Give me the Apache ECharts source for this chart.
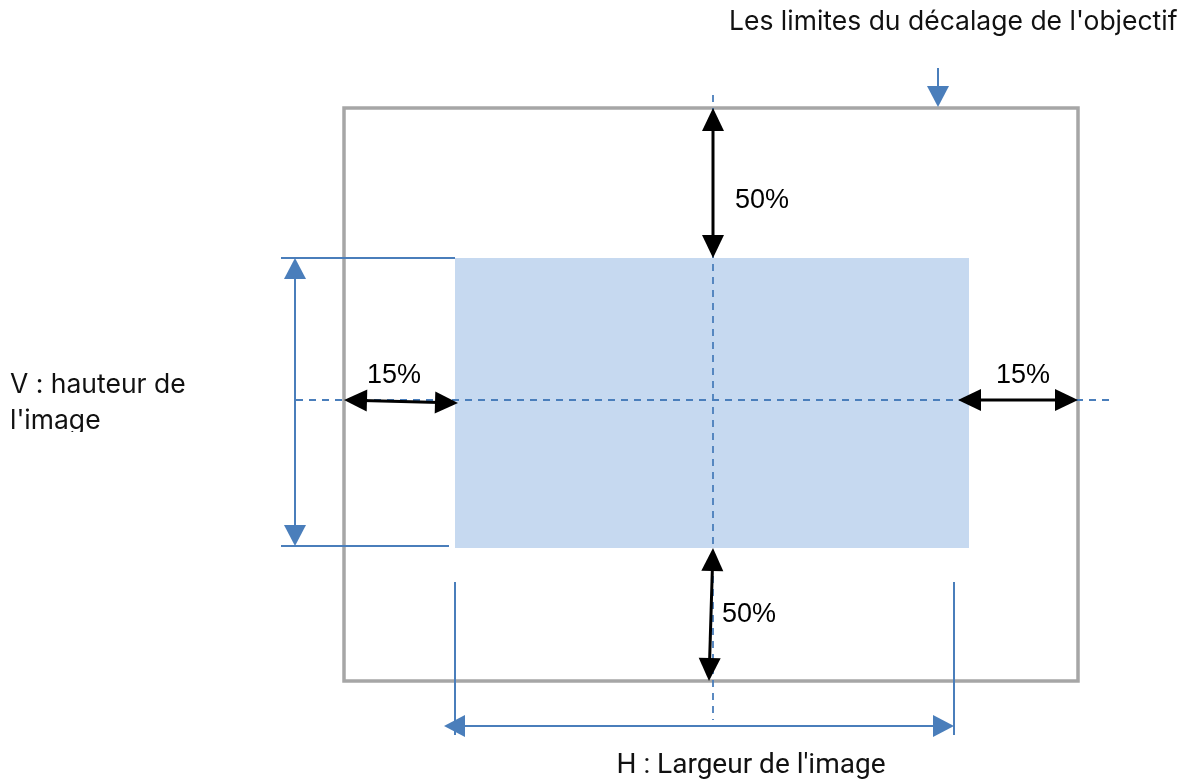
<!DOCTYPE html>
<html><head><meta charset="utf-8">
<script src="https://cdn.jsdelivr.net/npm/echarts@6/dist/echarts.min.js"></script>
<style>html,body{margin:0;padding:0;background:#fff}#c{width:1181px;height:780px}</style>
</head><body><div id="c"></div>
<script>
// ---- content (diagram units: x to the right, y downwards) ----
const titleTop = "Les limites du décalage de l'objectif";
const labelV = ["V : hauteur de", "l'image"];
const labelH = "H : Largeur de l'image";
const shiftValues = ["50%", "50%", "15%", "15%"];          // up, down, left, right
const outerFrame = [[344, 108, 1078, 681]];                 // x0, y0, x1, y1
const imageArea = [[455, 258, 969, 548]];
const centerLines = [[713, 95, 713, 720], [296, 400, 1115, 400]];
const extLines = [[281, 258, 455, 258], [281, 546, 449, 546], [455, 582, 455, 735], [954, 582, 954, 735]];
const shiftArrows = [[713, 108, 713, 258], [713, 548, 709, 681], [344, 400, 458, 403], [958, 400, 1078, 400]];
const shiftLabelAt = [[735, 201], [722, 615], [367, 376], [996, 376]];
const dimArrows = [[295, 258, 295, 546, 2], [444, 726, 954, 726, 2], [938, 68, 938, 107, 1]]; // last = heads
const textAt = [[729, 22], [10, 385], [10, 421], [751, 766]];

const BLUE = '#4a7ebb';

function arrowShapes(p0, p1, heads, len, hw, color, lw) {
  const dx = p1[0] - p0[0], dy = p1[1] - p0[1];
  const L = Math.hypot(dx, dy), ux = dx / L, uy = dy / L, px = -uy, py = ux;
  const out = [];
  const a = heads === 2 ? [p0[0] + ux * len * 0.8, p0[1] + uy * len * 0.8] : p0;
  const b = [p1[0] - ux * len * 0.8, p1[1] - uy * len * 0.8];
  out.push({type: 'line', shape: {x1: a[0], y1: a[1], x2: b[0], y2: b[1]}, style: {stroke: color, lineWidth: lw}});
  const head = (tip, sx, sy) => ({type: 'polygon', shape: {points: [
    tip, [tip[0] - sx * len + px * hw, tip[1] - sy * len + py * hw], [tip[0] - sx * len - px * hw, tip[1] - sy * len - py * hw]]},
    style: {fill: color}});
  out.push(head(p1, ux, uy));
  if (heads === 2) out.push(head(p0, -ux, -uy));
  return out;
}

const chart = echarts.init(document.getElementById('c'), null, {renderer: 'canvas'});
const base = {type: 'custom', coordinateSystem: 'cartesian2d', silent: true, animation: false};
const c = (api, x, y) => api.coord([x, y]);

chart.setOption({
  animation: false,
  grid: {left: 0, right: 0, top: 0, bottom: 0},
  xAxis: {type: 'value', min: 0, max: 1181, show: false},
  yAxis: {type: 'value', min: 0, max: 780, inverse: true, show: false},
  series: [
    Object.assign({}, base, {data: imageArea, z: 1, renderItem: (p, api) => {
      const a = c(api, api.value(0), api.value(1)), b = c(api, api.value(2), api.value(3));
      return {type: 'rect', shape: {x: a[0], y: a[1], width: b[0] - a[0], height: b[1] - a[1]}, style: {fill: '#c6d9f0'}};
    }}),
    Object.assign({}, base, {data: outerFrame, z: 2, renderItem: (p, api) => {
      const a = c(api, api.value(0), api.value(1)), b = c(api, api.value(2), api.value(3));
      return {type: 'rect', shape: {x: a[0], y: a[1], width: b[0] - a[0], height: b[1] - a[1]}, style: {fill: null, stroke: '#a6a6a6', lineWidth: 3.5}};
    }}),
    Object.assign({}, base, {data: centerLines, z: 3, renderItem: (p, api) => {
      const a = c(api, api.value(0), api.value(1)), b = c(api, api.value(2), api.value(3));
      return {type: 'line', shape: {x1: a[0], y1: a[1], x2: b[0], y2: b[1]}, style: {stroke: BLUE, lineWidth: 1.8, lineDash: [7, 6]}};
    }}),
    Object.assign({}, base, {data: extLines, z: 3, renderItem: (p, api) => {
      const a = c(api, api.value(0), api.value(1)), b = c(api, api.value(2), api.value(3));
      return {type: 'line', shape: {x1: a[0], y1: a[1], x2: b[0], y2: b[1]}, style: {stroke: BLUE, lineWidth: 2}};
    }}),
    Object.assign({}, base, {data: dimArrows, z: 4, renderItem: (p, api) => {
      const a = c(api, api.value(0), api.value(1)), b = c(api, api.value(2), api.value(3));
      return {type: 'group', children: arrowShapes(a, b, api.value(4), 21, 11, BLUE, 2)};
    }}),
    Object.assign({}, base, {data: shiftArrows, z: 5, renderItem: (p, api) => {
      const a = c(api, api.value(0), api.value(1)), b = c(api, api.value(2), api.value(3));
      return {type: 'group', children: arrowShapes(a, b, 2, 23, 11, '#000', 3)};
    }}),
    Object.assign({}, base, {data: shiftLabelAt, z: 6, renderItem: (p, api) => {
      const a = c(api, api.value(0), api.value(1));
      return {type: 'text', style: {text: shiftValues[p.dataIndex], x: a[0], y: a[1], fill: '#000',
        font: '27px "Liberation Sans", Arial, sans-serif', align: 'left', verticalAlign: 'middle'}};
    }}),
    Object.assign({}, base, {data: textAt, z: 6, renderItem: (p, api) => {
      const a = c(api, api.value(0), api.value(1));
      const texts = [titleTop, labelV[0], labelV[1], labelH];
      const i = p.dataIndex;
      const font = i === 3 ? '28px Roboto, sans-serif' : '26.5px Inter, sans-serif';
      return {type: 'text', style: {text: texts[i], x: a[0], y: a[1], fill: '#111',
        font: font, align: i === 3 ? 'center' : 'left', verticalAlign: 'middle'}};
    }}),
    Object.assign({}, base, {data: [[0, 432, 130, 450]], z: 7, renderItem: (p, api) => {
      const a = c(api, api.value(0), api.value(1)), b = c(api, api.value(2), api.value(3));
      return {type: 'rect', shape: {x: a[0], y: a[1], width: b[0] - a[0], height: b[1] - a[1]}, style: {fill: '#fff'}};
    }})
  ]
});
</script>
</body></html>
